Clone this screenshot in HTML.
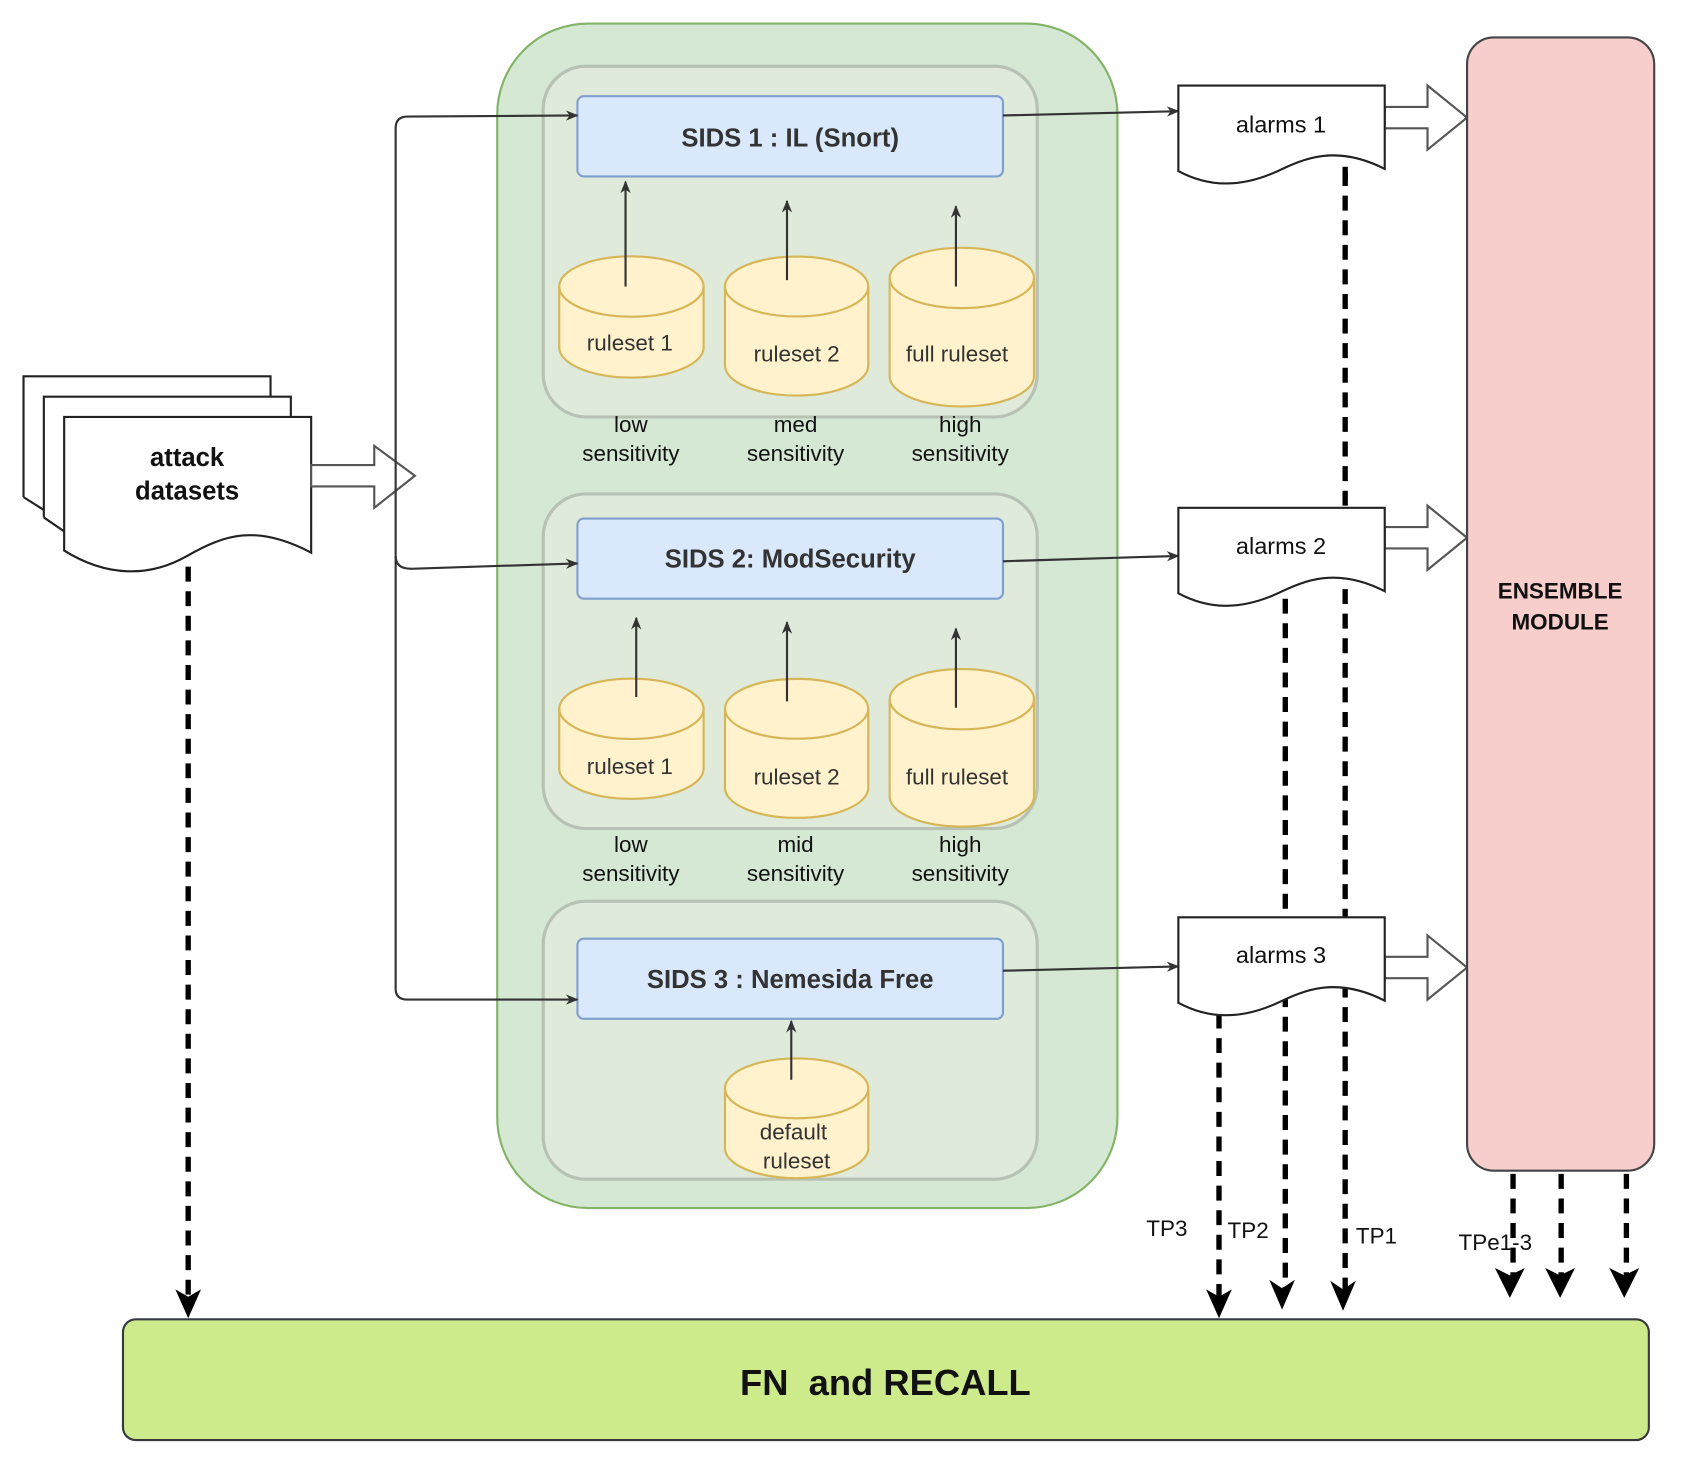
<!DOCTYPE html>
<html><head><meta charset="utf-8"><style>
html,body{margin:0;padding:0;background:#fff;}
svg{display:block;}
text{font-family:"Liberation Sans",Arial,sans-serif;}
</style></head><body>
<svg width="1682" height="1470" viewBox="0 0 1573 1375" preserveAspectRatio="none" xmlns="http://www.w3.org/2000/svg">
<defs>
<marker id="a" viewBox="0 0 10 10" refX="9" refY="5" markerWidth="12" markerHeight="12" markerUnits="userSpaceOnUse" orient="auto"><path d="M0,1 L10,5 L0,9 L3,5 z" fill="#333"/></marker>
</defs>
<rect x="465" y="22" width="580" height="1108" rx="85" fill="#d5e8d4" stroke="#82b366" stroke-width="2"/>
<rect x="508" y="62" width="462" height="328" rx="40" fill="#dfeadb" stroke="#b8c2b4" stroke-width="3"/>
<rect x="508" y="462" width="462" height="313" rx="40" fill="#dfeadb" stroke="#b8c2b4" stroke-width="3"/>
<rect x="508" y="843" width="462" height="260" rx="40" fill="#dfeadb" stroke="#b8c2b4" stroke-width="3"/>
<g fill="#dae8fc" stroke="#7f9fcf" stroke-width="2">
<rect x="540" y="90" width="398" height="75" rx="6"/>
<rect x="540" y="485" width="398" height="75" rx="6"/>
<rect x="540" y="878" width="398" height="75" rx="6"/>
</g>
<g font-size="24" font-weight="bold" fill="#333" text-anchor="middle">
<text x="739" y="137">SIDS 1 : IL (Snort)</text>
<text x="739" y="531">SIDS 2: ModSecurity</text>
<text x="739" y="924">SIDS 3 : Nemesida Free</text>
</g>
<g fill="#fff2cc" stroke="#d6b656" stroke-width="2">
<path d="M523,268 L523,325 A67,28 0 0 0 658,325 L658,268 A67,28 0 0 0 523,268 Z"/><path d="M523,268 A67,28 0 0 0 658,268" fill="none"/>
<path d="M678,268 L678,342 A67,28 0 0 0 812,342 L812,268 A67,28 0 0 0 678,268 Z"/><path d="M678,268 A67,28 0 0 0 812,268" fill="none"/>
<path d="M832,260 L832,352 A67,28 0 0 0 967,352 L967,260 A67,28 0 0 0 832,260 Z"/><path d="M832,260 A67,28 0 0 0 967,260" fill="none"/>
<path d="M523,663 L523,719 A67,28 0 0 0 658,719 L658,663 A67,28 0 0 0 523,663 Z"/><path d="M523,663 A67,28 0 0 0 658,663" fill="none"/>
<path d="M678,663 L678,737 A67,28 0 0 0 812,737 L812,663 A67,28 0 0 0 678,663 Z"/><path d="M678,663 A67,28 0 0 0 812,663" fill="none"/>
<path d="M832,654 L832,745 A67,28 0 0 0 967,745 L967,654 A67,28 0 0 0 832,654 Z"/><path d="M832,654 A67,28 0 0 0 967,654" fill="none"/>
<path d="M678,1018 L678,1074 A67,28 0 0 0 812,1074 L812,1018 A67,28 0 0 0 678,1018 Z"/><path d="M678,1018 A67,28 0 0 0 812,1018" fill="none"/>
</g>
<g font-size="21" fill="#333" text-anchor="middle">
<text x="589" y="328">ruleset 1</text>
<text x="745" y="338">ruleset 2</text>
<text x="895" y="338">full ruleset</text>
<text x="589" y="724">ruleset 1</text>
<text x="745" y="734">ruleset 2</text>
<text x="895" y="734">full ruleset</text>
<text x="742" y="1066">default</text>
<text x="745" y="1093">ruleset</text>
</g>
<g font-size="21" fill="#111" text-anchor="middle">
<text x="590" y="404">low</text><text x="590" y="431">sensitivity</text>
<text x="744" y="404">med</text><text x="744" y="431">sensitivity</text>
<text x="898" y="404">high</text><text x="898" y="431">sensitivity</text>
<text x="590" y="797">low</text><text x="590" y="824">sensitivity</text>
<text x="744" y="797">mid</text><text x="744" y="824">sensitivity</text>
<text x="898" y="797">high</text><text x="898" y="824">sensitivity</text>
</g>
<g stroke="#333" stroke-width="2" marker-end="url(#a)">
<line x1="585" y1="268" x2="585" y2="170"/>
<line x1="736" y1="262" x2="736" y2="188"/>
<line x1="894" y1="268" x2="894" y2="193"/>
<line x1="595" y1="652" x2="595" y2="578"/>
<line x1="736" y1="656" x2="736" y2="582"/>
<line x1="894" y1="662" x2="894" y2="588"/>
<line x1="740" y1="1010" x2="740" y2="955"/>
</g>
<g fill="#fff" stroke="#222" stroke-width="2">
<path d="M22,352 L253,352 L253,480 L22,480 Z" stroke="none"/>
<path d="M22,465 L41,477"/><path d="M41,484 L60,497"/>
<rect x="41" y="371" width="231" height="100" stroke="none"/>
<path d="M60,390 L291,390 L291,517 C240,490 210,500 175,520 C140,540 100,540 60,515 Z"/>
</g>
<path d="M22,465 L22,352 L253,352 L253,371" fill="none" stroke="#222" stroke-width="2"/>
<path d="M41,484 L41,371 L272,371 L272,390" fill="none" stroke="#222" stroke-width="2"/>
<text x="175" y="436" font-size="24" font-weight="bold" text-anchor="middle" fill="#111">attack</text>
<text x="175" y="467" font-size="24" font-weight="bold" text-anchor="middle" fill="#111">datasets</text>
<g fill="#fff" stroke="#555" stroke-width="2">
<path d="M291,435 L350,435 L350,417 L388,445 L350,475 L350,455 L291,455 Z"/>
<path d="M1295,100 L1335,100 L1335,80 L1372,110 L1335,140 L1335,120 L1295,120 Z"/>
<path d="M1295,493 L1335,493 L1335,473 L1372,503 L1335,533 L1335,513 L1295,513 Z"/>
<path d="M1295,895 L1335,895 L1335,875 L1372,905 L1335,935 L1335,915 L1295,915 Z"/>
</g>
<g fill="none" stroke="#333" stroke-width="2" marker-end="url(#a)">
<path d="M370,520 L370,120 Q370,109 381,109 L540,108"/>
<path d="M370,520 Q370,532 384,532 L540,527"/>
<path d="M370,520 L370,925 Q370,935 381,935 L540,935"/>
<line x1="938" y1="108" x2="1102" y2="104"/>
<line x1="938" y1="525" x2="1102" y2="520"/>
<line x1="938" y1="908" x2="1102" y2="904"/>
</g>
<rect x="1372" y="35" width="175" height="1060" rx="25" fill="#f8cecc" stroke="#444" stroke-width="2"/>
<text x="1459" y="560" font-size="21" font-weight="bold" text-anchor="middle" fill="#111">ENSEMBLE</text>
<text x="1459" y="589" font-size="21" font-weight="bold" text-anchor="middle" fill="#111">MODULE</text>
<g stroke="#000" stroke-width="5" stroke-dasharray="14 9" fill="none">
<line x1="176" y1="530" x2="176" y2="1212"/>
<line x1="1258" y1="160" x2="1258" y2="1208"/>
<line x1="1202" y1="560" x2="1202" y2="1206"/>
<line x1="1140" y1="948" x2="1140" y2="1214"/>
<line x1="1415" y1="1098" x2="1415" y2="1196"/>
<line x1="1460" y1="1098" x2="1460" y2="1196"/>
<line x1="1521" y1="1098" x2="1521" y2="1196"/>
</g>
<g fill="#000">
<path d="M164,1206 L176,1233 L188,1206 L176,1213 Z"/>
<path d="M1128,1206 L1140,1233 L1152,1206 L1140,1213 Z"/>
<path d="M1187,1197 L1199,1225 L1211,1197 L1199,1205 Z"/>
<path d="M1244,1198 L1256,1226 L1268,1198 L1256,1206 Z"/>
<path d="M1398,1186 L1412,1214 L1426,1186 L1412,1193 Z"/>
<path d="M1445,1186 L1459,1214 L1473,1186 L1459,1193 Z"/>
<path d="M1505,1186 L1519,1214 L1533,1186 L1519,1193 Z"/>
</g>
<g fill="#fff" stroke="#222" stroke-width="2">
<path d="M1102,80 L1295,80 L1295,158 C1250,135 1220,148 1195,160 C1160,176 1130,175 1102,160 Z"/>
<path d="M1102,475 L1295,475 L1295,553 C1250,530 1220,543 1195,555 C1160,571 1130,570 1102,555 Z"/>
<path d="M1102,858 L1295,858 L1295,936 C1250,913 1220,926 1195,938 C1160,954 1130,953 1102,938 Z"/>
</g>
<g stroke="#000" stroke-width="5" stroke-dasharray="14 9"><line x1="1258" y1="156" x2="1258" y2="170"/></g>
<g font-size="22" fill="#111" text-anchor="middle">
<text x="1198" y="124">alarms 1</text>
<text x="1198" y="518">alarms 2</text>
<text x="1198" y="901">alarms 3</text>
</g>
<g font-size="21" fill="#111">
<text x="1072" y="1156">TP3</text>
<text x="1148" y="1158">TP2</text>
<text x="1268" y="1163">TP1</text>
<text x="1364" y="1169">TPe1-3</text>
</g>
<rect x="115" y="1234" width="1427" height="113" rx="12" fill="#cdeb8b" stroke="#36393d" stroke-width="2"/>
<text x="828" y="1305" font-size="34" font-weight="bold" text-anchor="middle" fill="#111">FN&#160; and RECALL</text>
</svg>
</body></html>
